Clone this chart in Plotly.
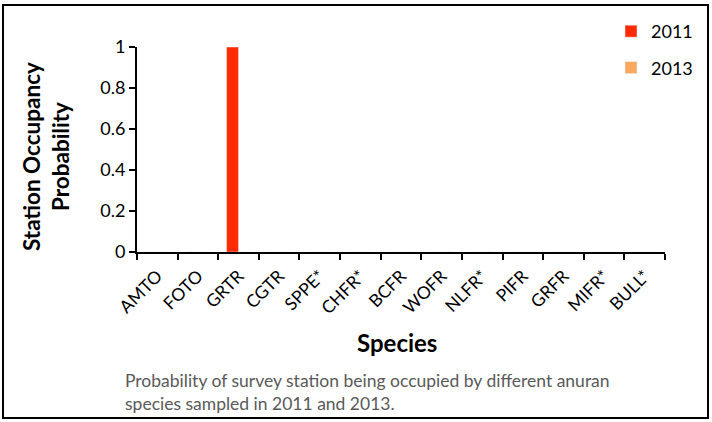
import plotly.graph_objects as go

species = ["AMTO", "FOTO", "GRTR", "CGTR", "SPPE*", "CHFR*", "BCFR", "WOFR",
           "NLFR*", "PIFR", "GRFR", "MIFR*", "BULL*"]
occ_2011 = [0, 0, 1, 0, 0, 0, 0, 0, 0, 0, 0, 0, 0]
occ_2013 = [0, 0, 0, 0, 0, 0, 0, 0, 0, 0, 0, 0, 0]
ytick_vals = [0, 0.2, 0.4, 0.6, 0.8, 1]
ytick_text = ["0", "0.2", "0.4", "0.6", "0.8", "1"]

W, H = 712, 422
L, R, T, B = 137, 47, 47, 170
pw, ph = W - L - R, H - T - B

def px(x):
    return (x - L) / pw

def py(y):
    return (H - B - y) / ph

FONT = "Lato, Open Sans, sans-serif"

fig = go.Figure()
fig.add_trace(go.Bar(x=species, y=occ_2011, name="2011", marker_color="#FF2A00",
                     legendgroup="a"))
fig.add_trace(go.Bar(x=species, y=occ_2013, name="2013", marker_color="#F9A95E",
                     legendgroup="b"))

fig.update_layout(
    width=W, height=H,
    margin=dict(l=L, r=R, t=T, b=B, autoexpand=False),
    paper_bgcolor="white", plot_bgcolor="white",
    font=dict(family=FONT, color="black", size=17),
    barmode="group", bargap=0.41, bargroupgap=0,
    showlegend=True,
    legend=dict(x=px(611), y=py(13), xanchor="left", yanchor="top",
                font=dict(size=18, family=FONT), tracegroupgap=10,
                bgcolor="rgba(0,0,0,0)", itemwidth=30),
    xaxis=dict(showline=True, linecolor="black", linewidth=2, ticks="outside",
               ticklen=6, tickwidth=1.5, tickcolor="black", tickson="boundaries",
               tickangle=-45, tickfont=dict(size=17.5, family=FONT),
               ticklabelstandoff=5,
               showgrid=False, fixedrange=True),
    yaxis=dict(range=[0, 1], showline=True, linecolor="black", linewidth=2,
               ticks="outside", ticklen=6, tickwidth=1.5, tickcolor="black",
               tickvals=ytick_vals, ticktext=ytick_text, showgrid=False,
               zeroline=False, tickfont=dict(size=18, family=FONT)),
    shapes=[dict(type="rect", xref="paper", yref="paper",
                 x0=px(3), x1=px(708), y0=py(418), y1=py(5),
                 line=dict(color="black", width=2))],
    annotations=[
        dict(text="<b>Station Occupancy<br>Probability</b>", xref="paper", yref="paper",
             x=px(46), y=py(157), textangle=-90, showarrow=False,
             font=dict(size=22.5, family=FONT), xanchor="center", yanchor="middle"),
        dict(text="<b>Species</b>", xref="paper", yref="paper",
             x=px(397), y=py(342), showarrow=False,
             font=dict(size=24, family=FONT), xanchor="center", yanchor="middle"),
        dict(text="Probability of survey station being occupied by different anuran<br>species sampled in 2011 and 2013.",
             xref="paper", yref="paper", x=px(123), y=py(368), showarrow=False,
             align="left", xanchor="left", yanchor="top",
             font=dict(size=17.5, family=FONT, color="#595959")),
    ],
)

fig.write_html("out.html", config={"displayModeBar": False},
               post_script="document.body.style.margin='0';document.body.style.overflow='hidden';")
